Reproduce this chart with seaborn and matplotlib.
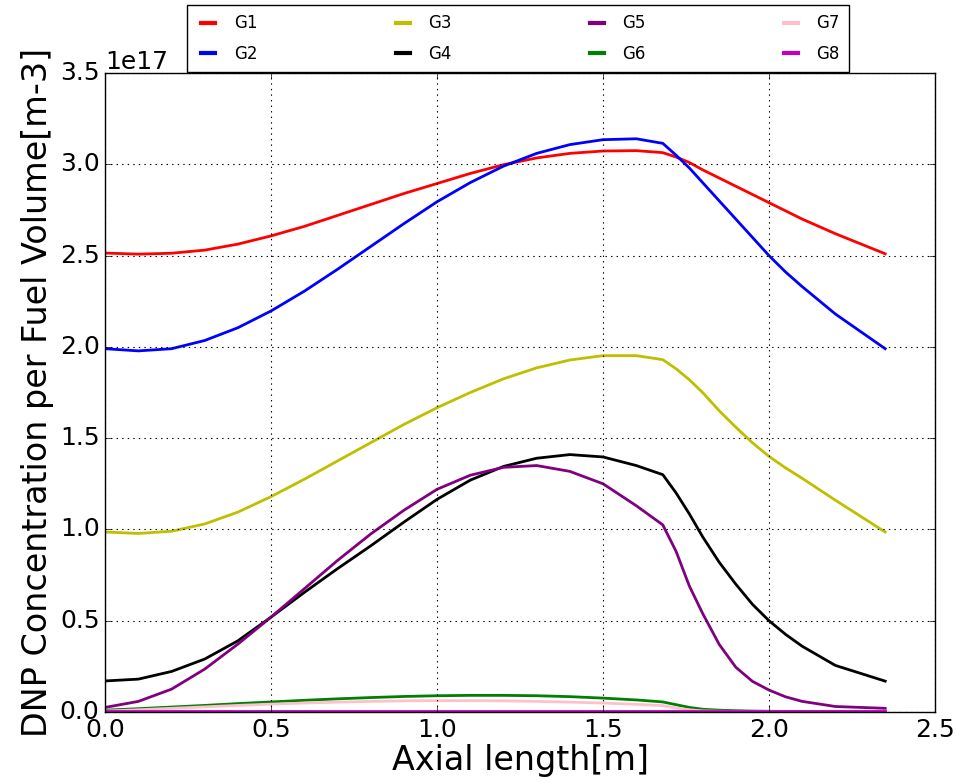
import matplotlib
matplotlib.use("Agg")
import matplotlib.pyplot as plt
import numpy as np
import pandas as pd
import seaborn as sns

# axial positions [m]
axial = [0.0, 0.1, 0.2, 0.3, 0.4, 0.5, 0.6, 0.7, 0.8, 0.9, 1.0, 1.1, 1.2,
         1.3, 1.4, 1.5, 1.6, 1.68, 1.72, 1.76, 1.8, 1.85, 1.9, 1.95, 2.0, 2.05,
         2.1, 2.2, 2.35]

# DNP concentrations, units of 1e17 m^-3
g1 = [2.514, 2.508, 2.513, 2.53, 2.563, 2.608, 2.66, 2.72, 2.78, 2.84, 2.895, 2.95, 2.998,
      3.035, 3.06, 3.073, 3.075, 3.064, 3.04, 3.01, 2.97, 2.925, 2.88, 2.835, 2.79, 2.745,
      2.70, 2.62, 2.51]
g2 = [1.99, 1.978, 1.99, 2.035, 2.105, 2.197, 2.305, 2.425, 2.55, 2.675, 2.795, 2.90, 2.99,
      3.06, 3.108, 3.135, 3.14, 3.115, 3.05, 2.98, 2.90, 2.80, 2.70, 2.60, 2.50, 2.41,
      2.33, 2.18, 1.99]
g3 = [0.986, 0.978, 0.99, 1.03, 1.095, 1.18, 1.275, 1.375, 1.475, 1.575, 1.667, 1.75, 1.825,
      1.885, 1.928, 1.952, 1.952, 1.93, 1.88, 1.82, 1.75, 1.65, 1.56, 1.475, 1.40, 1.337,
      1.28, 1.16, 0.986]
g4 = [0.17, 0.18, 0.222, 0.29, 0.39, 0.52, 0.655, 0.785, 0.91, 1.04, 1.165, 1.27, 1.345,
      1.39, 1.41, 1.397, 1.35, 1.30, 1.20, 1.085, 0.96, 0.82, 0.70, 0.59, 0.50, 0.425,
      0.36, 0.255, 0.169]
g5 = [0.025, 0.058, 0.125, 0.235, 0.372, 0.52, 0.675, 0.83, 0.975, 1.105, 1.22, 1.297, 1.34,
      1.35, 1.318, 1.25, 1.13, 1.025, 0.88, 0.69, 0.54, 0.37, 0.245, 0.168, 0.12, 0.083,
      0.058, 0.03, 0.02]
g6 = [0.01, 0.018, 0.027, 0.036, 0.046, 0.055, 0.064, 0.072, 0.079, 0.085, 0.089, 0.091, 0.091,
      0.089, 0.084, 0.076, 0.066, 0.055, 0.04, 0.025, 0.015, 0.01, 0.007, 0.005, 0.004, 0.003,
      0.003, 0.002, 0.002]
g7 = [0.005, 0.012, 0.02, 0.028, 0.036, 0.043, 0.049, 0.054, 0.058, 0.061, 0.062, 0.062, 0.061,
      0.058, 0.054, 0.049, 0.042, 0.035, 0.022, 0.012, 0.006, 0.004, 0.003, 0.002, 0.002, 0.001,
      0.001, 0.001, 0.001]
g8 = [0.008] * len(axial)

groups = ["G1", "G2", "G3", "G4", "G5", "G6", "G7", "G8"]
series = [g1, g2, g3, g4, g5, g6, g7, g8]
colors = ["red", "blue", "#bfbf00", "black", "purple", "green", "pink", "#bf00bf"]

df = pd.concat(
    [pd.DataFrame({"x": axial, "c": np.array(v) * 1e17, "group": g}) for g, v in zip(groups, series)],
    ignore_index=True,
)

plt.style.use("classic")
plt.rcParams["font.family"] = ["DejaVu Sans"]

fig = plt.figure(figsize=(9.56, 7.83), dpi=100, facecolor="white")
ax = fig.add_axes([0.110, 0.0907, 0.868, 0.816])
ax.set_facecolor("white")

sns.lineplot(data=df, x="x", y="c", hue="group", palette=dict(zip(groups, colors)),
             linewidth=2, errorbar=None, ax=ax, legend=False)

ax.set_xlim(0, 2.5)
ax.set_ylim(0, 3.5e17)
ax.set_xticks(np.arange(0, 2.51, 0.5))
ax.set_yticks(np.arange(0, 3.51e17, 0.5e17))
ax.grid(True, color="black", linestyle=":", linewidth=0.8)
ax.tick_params(labelsize=18)
ax.yaxis.get_offset_text().set_fontsize(18)
ax.set_xlabel("Axial length[m]", fontsize=24, labelpad=2)
ax.set_ylabel("DNP Concentration per Fuel Volume[m-3]", fontsize=24, labelpad=4)

handles = [plt.Line2D([], [], color=c, linewidth=3) for c in colors]
ax.legend(handles, groups, ncol=4, loc="upper center",
          bbox_to_anchor=(0.4976, 1.106), fontsize=12,
          handlelength=1.45, handletextpad=0.8, columnspacing=8.0,
          labelspacing=0.75, borderpad=0.55, borderaxespad=0, frameon=True)

fig.savefig("out.png", dpi=100, facecolor="white")
